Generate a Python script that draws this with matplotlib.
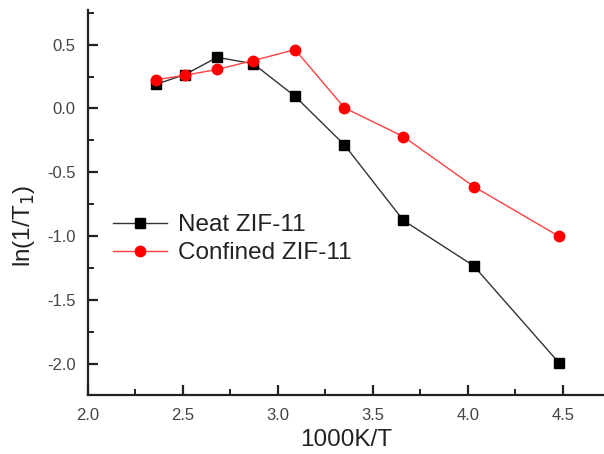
import matplotlib
matplotlib.use("Agg")
import matplotlib.pyplot as plt
from matplotlib.ticker import MultipleLocator

plt.rcParams['font.family'] = ['Liberation Sans', 'DejaVu Sans']

x_vals = [2.36, 2.51, 2.68, 2.87, 3.09, 3.35, 3.66, 4.03, 4.48]
neat = [0.19, 0.265, 0.40, 0.35, 0.095, -0.285, -0.875, -1.23, -1.99]
confined = [0.225, 0.26, 0.305, 0.375, 0.46, 0.005, -0.22, -0.61, -1.0]
labels = ["Neat ZIF-11", "Confined ZIF-11"]

fig = plt.figure(figsize=(6.04, 4.54), dpi=100)
ax = fig.add_axes([88/604, 1-395/454, 1-88/604, (395-10)/454])

ax.plot(x_vals, neat, color='#333333', lw=1.0, marker='s', ms=6.5,
        mfc='black', mec='black', label=labels[0])
ax.plot(x_vals, confined, color='#ff4040', lw=1.0, marker='o', ms=7.5,
        mfc='red', mec='red', label=labels[1])

ax.set_xlim(2.0, 4.716)
ax.set_ylim(-2.24, 0.77)
ax.xaxis.set_major_locator(MultipleLocator(0.5))
ax.xaxis.set_minor_locator(MultipleLocator(0.25))
ax.yaxis.set_major_locator(MultipleLocator(0.5))
ax.yaxis.set_minor_locator(MultipleLocator(0.25))
ax.xaxis.set_major_formatter(matplotlib.ticker.FormatStrFormatter('%.1f'))
ax.yaxis.set_major_formatter(matplotlib.ticker.FormatStrFormatter('%.1f'))

for s in ['top', 'right']:
    ax.spines[s].set_visible(False)
for s in ['left', 'bottom']:
    ax.spines[s].set_linewidth(1.6)
    ax.spines[s].set_color('#222222')

ax.tick_params(which='major', direction='in', length=7, width=1.6, color='#222222',
               labelsize=12, labelcolor='#444444', pad=9)
ax.tick_params(which='minor', direction='in', length=4, width=1.4, color='#222222')

ax.set_xlabel('1000K/T', fontsize=17.5, color='#222222', labelpad=5)
ax.set_ylabel('ln(1/T$_1$)', fontsize=17.5, color='#222222')
ax.yaxis.set_label_coords(-0.098, 0.44)

leg = ax.legend(loc='upper left', bbox_to_anchor=(0.03, 0.495), frameon=False,
                fontsize=17.5, handlelength=2.2, handletextpad=0.45,
                labelspacing=0.24, borderaxespad=0)
for t in leg.get_texts():
    t.set_color('#222222')

fig.savefig('out.png', dpi=100)
